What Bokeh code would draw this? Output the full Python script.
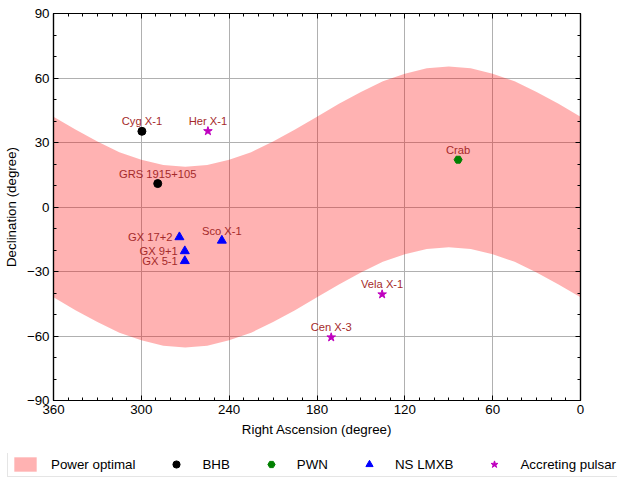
from bokeh.plotting import figure
from bokeh.layouts import column
from bokeh.models import Range1d, LinearAxis, FixedTicker, Legend, LegendItem, ColumnDataSource
from bokeh.core.properties import value
from bokeh.embed import file_html
from bokeh.resources import INLINE

# ---- data ----
band_ra = [0, 15, 30, 45, 60, 75, 90, 105, 120, 135, 150, 165, 180,
           195, 210, 225, 240, 255, 270, 285, 300, 315, 330, 345, 360]
band_upper = [42, 48, 53.5, 58.5, 62, 64.5, 65.3, 64.5, 62, 58.5, 53.5, 48, 42,
              36, 30.5, 25.5, 22, 19.5, 18.7, 19.5, 22, 25.5, 30.5, 36, 42]
band_lower = [-42, -36, -30.5, -25.5, -22, -19.5, -18.7, -19.5, -22, -25.5, -30.5, -36, -42,
              -48, -53.5, -58.5, -62, -64.5, -65.3, -64.5, -62, -58.5, -53.5, -48, -42]

bhb_names = ["Cyg X-1", "GRS 1915+105"]
bhb_ra = [299.6, 288.8]
bhb_dec = [35.2, 10.9]

pwn_names = ["Crab"]
pwn_ra = [83.6]
pwn_dec = [22.0]

lmxb_names = ["Sco X-1", "GX 17+2", "GX 9+1", "GX 5-1"]
lmxb_ra = [245.0, 274.0, 270.3, 270.3]
lmxb_dec = [-15.6, -14.0, -20.5, -25.1]

ap_names = ["Her X-1", "Vela X-1", "Cen X-3"]
ap_ra = [254.5, 135.5, 170.3]
ap_dec = [35.3, -40.6, -60.6]

legend_labels = ["Power optimal", "BHB", "PWN", "NS LMXB", "Accreting pulsar"]

x_ticks = [0, 60, 120, 180, 240, 300, 360]
y_ticks = [-90, -60, -30, 0, 30, 60, 90]
y_tick_labels = {-90: "\u221290", -60: "\u221260", -30: "\u221230", 0: "0", 30: "30", 60: "60", 90: "90"}

FONT = "Liberation Sans"
LABEL_COLOR = "#a52a2a"
BAND_STYLE = dict(fill_color="red", fill_alpha=0.3)
BHB_STYLE = dict(marker="circle", color="black")
PWN_STYLE = dict(marker="hex", color="#008000")
LMXB_STYLE = dict(marker="triangle", color="#0000ff")
AP_STYLE = dict(marker="star", color="#bf00bf")

p = figure(frame_width=527, frame_height=387,
           min_border_left=46, min_border_right=44, min_border_top=13, min_border_bottom=53,
           x_range=Range1d(360, 0), y_range=Range1d(-90, 90),
           output_backend="svg", toolbar_location=None)
p.frame_align = False
p.outline_line_color = "black"
p.outline_line_width = 1.2

xa = p.below[0]
ya = p.left[0]
xa.axis_label = "Right Ascension (degree)"
ya.axis_label = "Declination (degree)"

xt = FixedTicker(ticks=x_ticks, minor_ticks=list(range(0, 361, 10)))
yt = FixedTicker(ticks=y_ticks, minor_ticks=list(range(-90, 91, 10)))

xa.ticker = xt
ya.ticker = yt
ya.major_label_overrides = y_tick_labels
p.xgrid.ticker = xt
p.ygrid.ticker = yt
for g in (p.xgrid, p.ygrid):
    g.grid_line_color = "#b0b0b0"
    g.grid_line_width = 1

top = LinearAxis(ticker=xt, major_label_overrides={t: "" for t in x_ticks}, major_label_standoff=0)
right = LinearAxis(ticker=yt, major_label_overrides={t: "" for t in y_ticks}, major_label_standoff=0)
p.add_layout(top, "above")
p.add_layout(right, "right")

for ax in [xa, ya, top, right]:
    ax.major_tick_in = 5
    ax.major_tick_out = 0
    ax.minor_tick_in = 3
    ax.minor_tick_out = 0
    ax.axis_line_width = 1.2
    ax.major_tick_line_width = 1
    ax.minor_tick_line_width = 1
    ax.axis_line_color = "black"
    ax.major_tick_line_color = "black"
    ax.minor_tick_line_color = "black"
    ax.major_label_text_font = FONT
    ax.major_label_text_color = "black"
    ax.major_label_text_font_size = "13.33px"
    ax.axis_label_text_font = FONT
    ax.axis_label_text_font_style = "normal"
    ax.axis_label_text_font_size = "13.33px"
    ax.axis_label_text_color = "black"

xa.major_label_standoff = 4
xa.axis_label_standoff = 5
ya.major_label_standoff = 4
ya.axis_label_standoff = 5

p.varea(x=band_ra, y1=band_lower, y2=band_upper, **BAND_STYLE)
p.scatter(bhb_ra, bhb_dec, size=8, **BHB_STYLE)
p.scatter(pwn_ra, pwn_dec, size=8, **PWN_STYLE)
p.scatter(lmxb_ra, lmxb_dec, size=9, **LMXB_STYLE)
p.scatter(ap_ra, ap_dec, size=9, **AP_STYLE)

# labels: above for most, to the left for the GX sources
all_names = bhb_names + pwn_names + lmxb_names + ap_names
all_ra = bhb_ra + pwn_ra + lmxb_ra + ap_ra
all_dec = bhb_dec + pwn_dec + lmxb_dec + ap_dec
above = [i for i, n in enumerate(all_names) if not n.startswith("GX")]
left = [i for i, n in enumerate(all_names) if n.startswith("GX")]

src_above = ColumnDataSource(dict(x=[all_ra[i] for i in above], y=[all_dec[i] for i in above],
                                  t=[all_names[i] for i in above]))
src_left = ColumnDataSource(dict(x=[all_ra[i] for i in left], y=[all_dec[i] for i in left],
                                 t=[all_names[i] for i in left]))
p.text(x="x", y="y", text="t", source=src_above, text_align="center", text_baseline="bottom",
       y_offset=-4, text_font=value(FONT), text_font_size="11.2px", text_color=LABEL_COLOR)
p.text(x="x", y="y", text="t", source=src_left, text_align="right", text_baseline="middle",
       x_offset=-7, text_font=value(FONT), text_font_size="11.2px", text_color=LABEL_COLOR)

# ---- legend strip below the plot (its own small figure; proxies lie outside its view) ----
lg = figure(width=617, height=24, min_border=0, x_range=Range1d(-2, -1), y_range=Range1d(-2, -1),
            x_axis_location=None, y_axis_location=None,
            output_backend="svg", toolbar_location=None)
lg.frame_align = False
lg.grid.visible = False
lg.outline_line_color = None
l_band = lg.varea(x=band_ra, y1=band_lower, y2=band_upper, **BAND_STYLE)
l_bhb = lg.scatter(bhb_ra, bhb_dec, **BHB_STYLE)
l_pwn = lg.scatter(pwn_ra, pwn_dec, **PWN_STYLE)
l_lmxb = lg.scatter(lmxb_ra, lmxb_dec, **LMXB_STYLE)
l_ap = lg.scatter(ap_ra, ap_dec, **AP_STYLE)
legend = Legend(items=[LegendItem(label=lab, renderers=[r]) for lab, r in
                       zip(legend_labels, [l_band, l_bhb, l_pwn, l_lmxb, l_ap])],
                orientation="horizontal", location=(7, 0),
                glyph_width=28, glyph_height=18, label_height=18, label_standoff=12, spacing=27,
                padding=3, margin=0, border_line_color="#cccccc", border_line_width=1,
                label_text_font=FONT, label_text_font_size="13.33px", label_text_color="black",
                background_fill_color="white", background_fill_alpha=1)
lg.add_layout(legend, "center")

layout = column(p, lg, spacing=0)
open("out.html", "w").write(file_html(layout, INLINE))
